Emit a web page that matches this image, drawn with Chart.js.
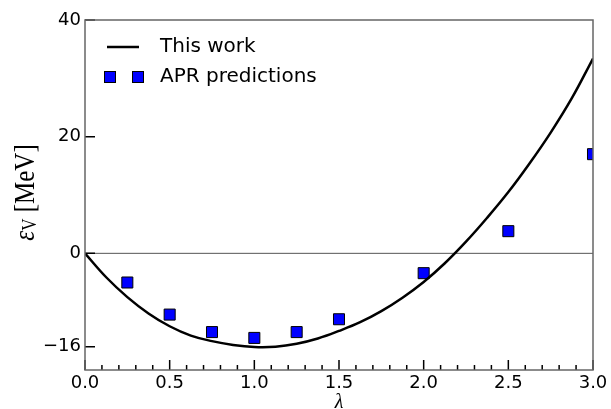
<!DOCTYPE html>
<html>
<head>
<meta charset="utf-8">
<script src="https://cdn.jsdelivr.net/npm/chart.js@4"></script>
<style>
html, body { margin: 0; padding: 0; background: #fff; }
#wrap { width: 611px; height: 409px; }
</style>
</head>
<body>
<div id="wrap"><canvas id="chart" width="611" height="409"></canvas></div>
<script>
// "This work" curve
const curveLambda = [0, 0.125, 0.25, 0.375, 0.5, 0.625, 0.75, 0.875, 1.0, 1.125, 1.25, 1.375, 1.5,
    1.625, 1.75, 1.875, 2.0, 2.125, 2.25, 2.375, 2.5, 2.625, 2.75, 2.875, 3.0];
const curveEnergy = [0, -4.1, -7.5, -10.3, -12.5, -14.1, -15.05, -15.7, -16.05, -16.0, -15.5, -14.6, -13.3,
    -11.8, -9.9, -7.6, -4.9, -1.7, 2.0, 6.1, 10.5, 15.4, 20.7, 26.6, 33.4];

// APR predictions
const aprLambda = [0.25, 0.5, 0.75, 1.0, 1.25, 1.5, 2.0, 2.5, 3.0];
const aprEnergy = [-5.0, -10.5, -13.5, -14.5, -13.5, -11.3, -3.4, 3.8, 17.0];

const xTickValues = [0, 0.5, 1.0, 1.5, 2.0, 2.5, 3.0];
const xMinorStep = 0.1;
const yTickValues = [-16, 0, 20, 40];

const tickFont = { family: "DejaVu Sans", size: 18 };

const decorations = {
    id: "decorations",
    beforeDatasetsDraw(chart) {
        const { ctx, chartArea: a, scales: { y } } = chart;
        const y0 = y.getPixelForValue(0);
        ctx.save();
        ctx.strokeStyle = "#555";
        ctx.lineWidth = 1;
        ctx.beginPath();
        ctx.moveTo(a.left, y0);
        ctx.lineTo(a.right, y0);
        ctx.stroke();
        ctx.restore();
    },
    afterDatasetsDraw(chart) {
        const { ctx, chartArea: a, scales: { x, y } } = chart;
        ctx.save();
        // ticks pointing inward
        ctx.strokeStyle = "#000";
        ctx.lineWidth = 1.5;
        ctx.beginPath();
        for (let v = 0; v <= 3.0001; v += xMinorStep) {
            const px = x.getPixelForValue(v);
            const major = xTickValues.some(t => Math.abs(t - v) < 1e-6);
            ctx.moveTo(px, a.bottom);
            ctx.lineTo(px, a.bottom - (major ? 10 : 5));
        }
        yTickValues.forEach(v => {
            const py = y.getPixelForValue(v);
            ctx.moveTo(a.left, py);
            ctx.lineTo(a.left + 10, py);
        });
        ctx.stroke();
        // frame
        ctx.strokeStyle = "#666";
        ctx.lineWidth = 1.5;
        ctx.strokeRect(a.left, a.top, a.right - a.left, a.bottom - a.top);
        ctx.restore();
    },
    afterDraw(chart) {
        const ctx = chart.ctx;
        const ds = chart.data.datasets;
        ctx.save();
        // legend
        ctx.font = "20px 'DejaVu Sans'";
        ctx.fillStyle = "#000";
        ctx.textBaseline = "middle";
        ctx.strokeStyle = "#000";
        ctx.lineWidth = 2.5;
        ctx.beginPath();
        ctx.moveTo(107, 47);
        ctx.lineTo(139, 47);
        ctx.stroke();
        ctx.fillText(ds[0].label, 160, 47);
        [110, 138].forEach(cx => {
            ctx.fillStyle = "#0000ff";
            ctx.fillRect(cx - 5.5, 77 - 5.5, 11, 11);
            ctx.strokeStyle = "#000";
            ctx.lineWidth = 1;
            ctx.strokeRect(cx - 5.5, 77 - 5.5, 11, 11);
        });
        ctx.fillStyle = "#000";
        ctx.fillText(ds[1].label, 160, 77);

        // y axis title: eps_V [MeV]
        ctx.translate(35, 192.5);
        ctx.rotate(-Math.PI / 2);
        ctx.scale(1, 1.2);
        ctx.textBaseline = "alphabetic";
        const f1 = "italic 25px 'Liberation Serif'";
        const f2 = "17px 'Liberation Serif'";
        const f3 = "25px 'Liberation Serif'";
        ctx.font = f1; const w1 = ctx.measureText("\u03b5").width;
        ctx.font = f2; const w2 = ctx.measureText("V").width;
        ctx.font = f3; const w3 = ctx.measureText(" [MeV]").width;
        let tx = -(w1 + w2 + w3) / 2;
        ctx.font = f1; ctx.fillText("\u03b5", tx, -1); tx += w1;
        ctx.font = f2; ctx.fillText("V", tx, 1); tx += w2;
        ctx.font = f3; ctx.fillText(" [MeV]", tx, -1);
        ctx.restore();
    }
};

new Chart(document.getElementById("chart"), {
    type: "scatter",
    data: {
        datasets: [{
            label: "This work",
            data: curveLambda.map((l, i) => ({ x: l, y: curveEnergy[i] })),
            showLine: true,
            borderColor: "#000",
            borderWidth: 2.5,
            pointRadius: 0,
            tension: 0.4,
            clip: 0
        }, {
            label: "APR predictions",
            data: aprLambda.map((l, i) => ({ x: l, y: aprEnergy[i] })),
            pointStyle: "rect",
            pointRadius: 7.8,
            pointBackgroundColor: "#0000ff",
            pointBorderColor: "#000",
            pointBorderWidth: 1,
            clip: 0
        }]
    },
    options: {
        responsive: false,
        animation: false,
        devicePixelRatio: 1,
        layout: { padding: { top: 20, right: 18, left: 0, bottom: 0 } },
        plugins: {
            legend: { display: false },
            tooltip: { enabled: false }
        },
        scales: {
            x: {
                type: "linear",
                min: 0,
                max: 3,
                afterBuildTicks: s => { s.ticks = xTickValues.map(v => ({ value: v })); },
                afterFit: s => { s.height = 39; },
                grid: { display: false, drawTicks: false },
                border: { display: false },
                ticks: {
                    font: tickFont,
                    color: "#000",
                    padding: 3,
                    maxRotation: 0,
                    autoSkip: false,
                    callback: v => Number(v).toFixed(1)
                },
                title: {
                    display: true,
                    text: "\u03bb",
                    color: "#000",
                    font: { family: "Liberation Serif", size: 20, style: "italic" },
                    padding: { top: 0, bottom: -6 }
                }
            },
            y: {
                type: "linear",
                min: -20,
                max: 40,
                afterBuildTicks: s => { s.ticks = yTickValues.map(v => ({ value: v })); },
                afterFit: s => { s.width = 85; },
                grid: { display: false, drawTicks: false },
                border: { display: false },
                ticks: {
                    font: tickFont,
                    color: "#000",
                    padding: 4,
                    callback: v => v < 0 ? "\u2212" + Math.abs(v) : String(v)
                }
            }
        }
    },
    plugins: [decorations]
});
</script>
</body>
</html>
